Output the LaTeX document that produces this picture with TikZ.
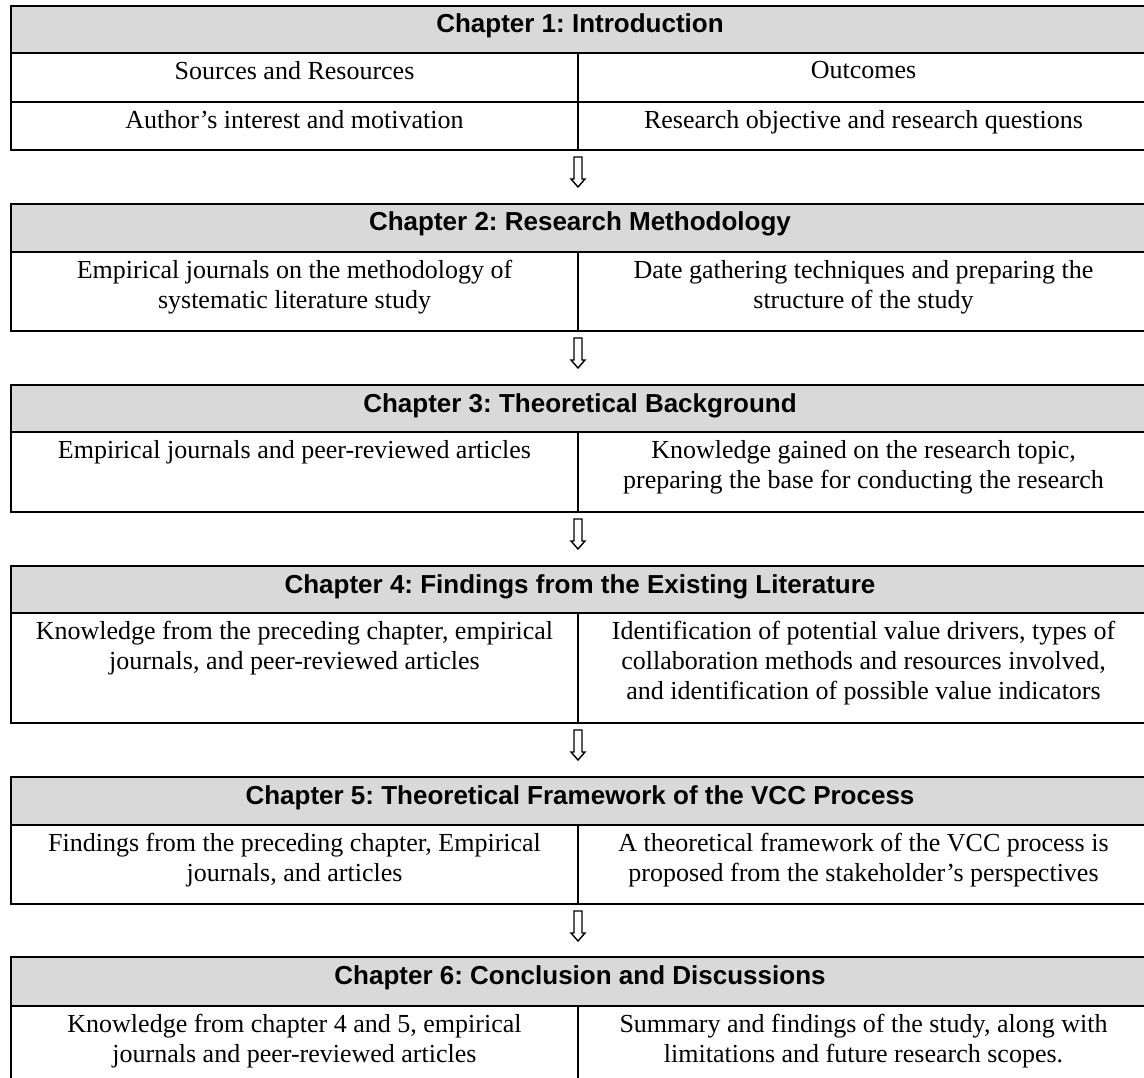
\documentclass[tikz,border=0pt]{standalone}
\usepackage{fontspec}
\setmainfont{Liberation Serif}
\newfontfamily\headfont{Liberation Sans}
\definecolor{headgray}{HTML}{D9D9D9}
\frenchspacing

% One chapter block: #1 name, #2 top, #3 header bottom, #4 bottom,
% #5 title, #6 left cell, #7 right cell
\newcommand{\chapterblock}[7]{%
  \fill[headgray] (11,#2) rectangle (1149,#3);
  \draw[frame] (11,#2) rectangle (1149,#4);
  \draw[frame] (11,#3) -- (1149,#3);
  \draw[frame] (578,#3) -- (578,#4);
  \node[headtext] (#1-title) at (580,#2+27) {#5};
  \node[celltext] (#1-left) at (294.5,#3+8) {#6};
  \node[celltext] (#1-right) at (863.5,#3+8) {#7};
  \coordinate (#1-bottom) at (578,#4);
}
% Hollow down arrow hanging below a block
\newcommand{\hollowdown}[1]{%
  \draw[downarrow] (#1) ++(-4,7) -- ++(8,0) -- ++(0,22) -- ++(3,0)
    -- ++(-7,8) -- ++(-7,-8) -- ++(3,0) -- cycle;
}

\begin{document}
\frenchspacing
\begin{tikzpicture}[x=1pt,y=-1pt,
  frame/.style={line width=2.2pt},
  headtext/.style={font=\headfont\bfseries\fontsize{26}{30}\selectfont\frenchspacing,
    inner sep=0pt, anchor=base},
  celltext/.style={font=\fontsize{26}{30}\selectfont\frenchspacing, align=center,
    inner sep=0pt, anchor=north},
  downarrow/.style={line width=1.4pt, fill=white}]
\useasboundingbox (0,0) rectangle (1144,1078);
\clip (0,0) rectangle (1144,1078);
\fill[white] (0,0) rectangle (1144,1078);

% Chapter 1 (two body rows)
\fill[headgray] (11,6) rectangle (1149,53);
\draw[frame] (11,6) rectangle (1149,150);
\draw[frame] (11,53) -- (1149,53);
\draw[frame] (11,102) -- (1149,102);
\draw[frame] (578,53) -- (578,150);
\node[headtext] (c1-title) at (580,33) {Chapter 1: Introduction};
\node[celltext] (c1-src) at (294.5,61) {Sources and Resources};
\node[celltext] (c1-out) at (863.5,61) {Outcomes};
\node[celltext] (c1-left) at (294.5,110) {Author’s interest and motivation};
\node[celltext] (c1-right) at (863.5,110) {Research objective and research questions};
\coordinate (c1-bottom) at (578,150);

\chapterblock{c2}{204}{252}{331}{Chapter 2: Research Methodology}
  {Empirical journals on the methodology of\\systematic literature study}
  {Date gathering techniques and preparing the\\structure of the study}
\chapterblock{c3}{385}{432}{512}{Chapter 3: Theoretical Background}
  {Empirical journals and peer-reviewed articles}
  {Knowledge gained on the research topic,\\preparing the base for conducting the research}
\chapterblock{c4}{566}{613}{723}{Chapter 4: Findings from the Existing Literature}
  {Knowledge from the preceding chapter, empirical\\journals, and peer-reviewed articles}
  {Identification of potential value drivers, types of\\collaboration methods and resources involved,\\and identification of possible value indicators}
\chapterblock{c5}{777}{825}{904}{Chapter 5: Theoretical Framework of the VCC Process}
  {Findings from the preceding chapter, Empirical\\journals, and articles}
  {A theoretical framework of the VCC process is\\proposed from the stakeholder’s perspectives}
\chapterblock{c6}{957}{1006}{1092}{Chapter 6: Conclusion and Discussions}
  {Knowledge from chapter 4 and 5, empirical\\journals and peer-reviewed articles}
  {Summary and findings of the study, along with\\limitations and future research scopes.}

% Arrows between chapters
\hollowdown{c1-bottom}
\hollowdown{c2-bottom}
\hollowdown{c3-bottom}
\hollowdown{c4-bottom}
\hollowdown{c5-bottom}
\end{tikzpicture}
\end{document}
